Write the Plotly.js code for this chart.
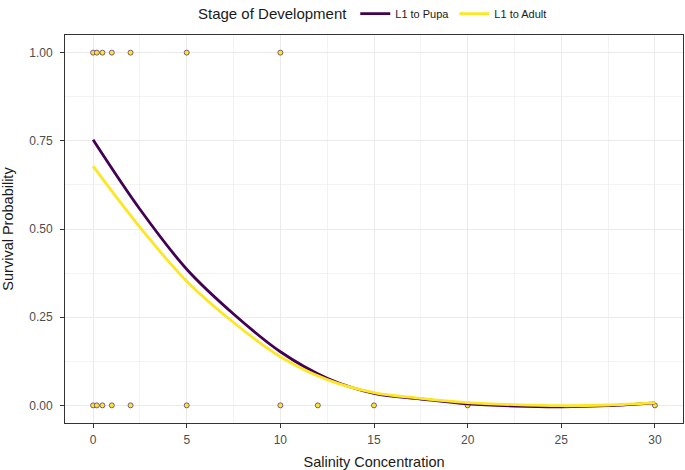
<!DOCTYPE html>
<html>
<head>
<meta charset="utf-8">
<script src="https://cdn.plot.ly/plotly-3.0.1.min.js"></script>
<style>html,body{margin:0;padding:0;background:#fff;}#chart{width:685px;height:470px;}</style>
</head>
<body>
<div id="chart"></div>
<script>
// Fitted curves
const curveX = [0, 2.5, 5, 7.5, 10, 12.5, 15, 17.5, 20, 22.5, 25, 27.5, 30];
const pupaY  = [0.753, 0.556, 0.386, 0.259, 0.152, 0.077, 0.034, 0.018, 0.004, -0.002, -0.004, -0.001, 0.007];
const adultY = [0.678, 0.505, 0.352, 0.235, 0.138, 0.073, 0.036, 0.020, 0.008, 0.002, -0.001, 0.001, 0.008];

// Observed outcomes
const survivedX = [0, 0.2, 0.5, 1, 2, 5, 10];
const survivedY = [1, 1, 1, 1, 1, 1, 1];
const diedX = [0, 0.2, 0.5, 1, 2, 5, 10, 12, 15, 20, 30];
const diedY = [0, 0, 0, 0, 0, 0, 0, 0, 0, 0, 0];

const xTicks = [0, 5, 10, 15, 20, 25, 30];
const xMinor = [2.5, 7.5, 12.5, 17.5, 22.5, 27.5];
const yTicks = [0, 0.25, 0.5, 0.75, 1];
const yMinor = [0.125, 0.375, 0.625, 0.875];

const seriesNames = ['L1 to Pupa', 'L1 to Adult'];
const seriesColors = ['#440154', '#FDE725'];

const pointMarker = {size: 5, color: '#FDE725', line: {color: '#6b4a8a', width: 0.9}};

const traces = [
  {x: survivedX, y: survivedY, type: 'scatter', mode: 'markers', marker: pointMarker, showlegend: false, hoverinfo: 'skip'},
  {x: diedX, y: diedY, type: 'scatter', mode: 'markers', marker: pointMarker, showlegend: false, hoverinfo: 'skip'},
  {x: curveX, y: pupaY, type: 'scatter', mode: 'lines', name: seriesNames[0],
   line: {color: seriesColors[0], width: 2.8, shape: 'spline', smoothing: 1}},
  {x: curveX, y: adultY, type: 'scatter', mode: 'lines', name: seriesNames[1],
   line: {color: seriesColors[1], width: 2.8, shape: 'spline', smoothing: 1}}
];

const axisCommon = {
  showline: true, mirror: true, linecolor: '#333333', linewidth: 1,
  ticks: 'outside', ticklen: 4, tickcolor: '#333333', tickwidth: 1,
  showgrid: true, gridcolor: '#ebebeb', gridwidth: 1,
  zeroline: false, showspikes: false,
  tickfont: {family: 'Liberation Sans, Arial, sans-serif', size: 12, color: '#4d4d4d'},
  automargin: false
};

const layout = {
  width: 685, height: 470,
  margin: {l: 65, r: 2, t: 35, b: 47, autoexpand: false},
  paper_bgcolor: '#ffffff', plot_bgcolor: '#ffffff',
  font: {family: 'Liberation Sans, Arial, sans-serif', color: '#1a1a1a'},
  xaxis: Object.assign({}, axisCommon, {
    range: [-1.5, 31.5], tickvals: xTicks, ticktext: xTicks.map(String),
    ticklabelstandoff: 2,
    minor: {tickmode: 'array', tickvals: xMinor, showgrid: true, gridcolor: '#ebebeb', gridwidth: 0.6, ticks: ''},
    title: {text: 'Salinity Concentration', font: {size: 14.5, color: '#1a1a1a'}, standoff: 16}
  }),
  yaxis: Object.assign({}, axisCommon, {
    range: [-0.05, 1.05], tickvals: yTicks, ticktext: yTicks.map(v => v.toFixed(2)),
    ticklabelstandoff: 5,
    minor: {tickmode: 'array', tickvals: yMinor, showgrid: true, gridcolor: '#ebebeb', gridwidth: 0.6, ticks: ''},
    title: {text: 'Survival Probability', font: {size: 14.5, color: '#1a1a1a'}, standoff: 15}
  }),
  legend: {
    orientation: 'h', x: 0.5, xanchor: 'center', y: 1.015, yanchor: 'bottom',
    title: {text: 'Stage of Development', side: 'left', font: {size: 15, color: '#1a1a1a'}},
    font: {size: 11, color: '#1a1a1a'},
    itemwidth: 30, bgcolor: 'rgba(0,0,0,0)', traceorder: 'normal'
  },
  showlegend: true
};

Plotly.newPlot('chart', traces, layout, {staticPlot: true, displayModeBar: false});
</script>
</body>
</html>
